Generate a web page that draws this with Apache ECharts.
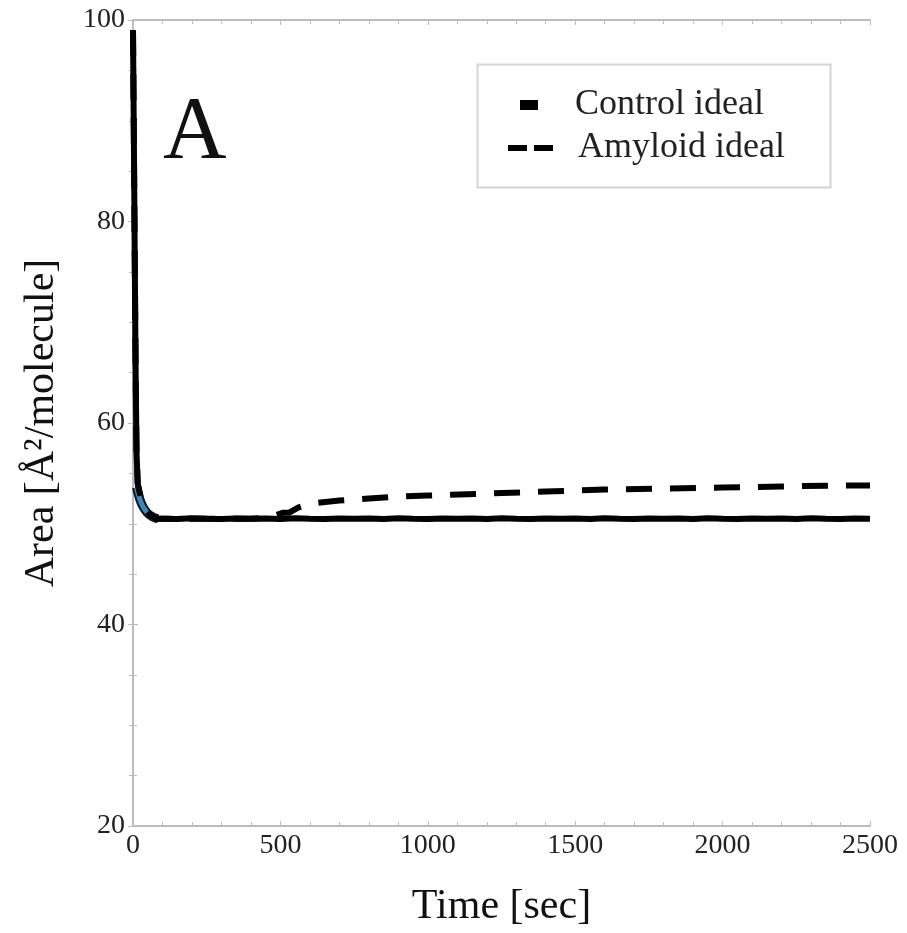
<!DOCTYPE html>
<html>
<head>
<meta charset="utf-8">
<script src="https://cdn.jsdelivr.net/npm/echarts@6/dist/echarts.min.js"></script>
<style>html,body{margin:0;padding:0;background:#fff}#c{width:907px;height:933px}</style>
</head>
<body>
<div id="c"></div>
<script>
// ---- data ----
const xTicks = [0, 500, 1000, 1500, 2000, 2500];
const yTicks = [20, 40, 60, 80, 100];
// initial compression drop (shared by both curves)
const dropTime = [0, 3, 6, 9, 12, 16, 20, 30, 45, 60, 80];
const dropArea = [99, 88, 76, 65, 57, 54, 53.4, 52.2, 51.3, 50.8, 50.5];
// control ideal plateau (sampled every 50 s)
const ctrlTime = [100,150,200,250,300,350,400,450,500,550,600,650,700,750,800,850,900,950,1000,1050,1100,1150,1200,1250,1300,1350,1400,1450,1500,1550,1600,1650,1700,1750,1800,1850,1900,1950,2000,2050,2100,2150,2200,2250,2300,2350,2400,2450,2500];
const ctrlArea = [50.5,50.46,50.54,50.5,50.47,50.53,50.5,50.52,50.46,50.54,50.5,50.47,50.53,50.5,50.52,50.46,50.54,50.5,50.47,50.53,50.5,50.52,50.46,50.54,50.5,50.47,50.53,50.5,50.52,50.46,50.54,50.5,50.47,50.53,50.5,50.52,50.46,50.54,50.5,50.47,50.53,50.5,50.52,50.46,50.54,50.5,50.47,50.53,50.5];
// amyloid ideal plateau with slow rise
const amyTime = [100, 200, 300, 400, 450, 480, 510, 530, 560, 600, 700, 800, 900, 1000, 1200, 1400, 1600, 1800, 2000, 2200, 2400, 2500];
const amyArea = [50.5, 50.5, 50.5, 50.5, 50.6, 50.8, 51.1, 51.1, 51.6, 52.0, 52.3, 52.5, 52.7, 52.8, 53.0, 53.2, 53.4, 53.5, 53.6, 53.7, 53.8, 53.8];
// highlighted corner of the drop
const cornerTime = [12, 20, 32, 48, 66, 85];
const cornerArea = [53.6, 52.7, 51.8, 51.1, 50.7, 50.5];

const zip = (a, b) => a.map((v, i) => [v, b[i]]);
const ctrlData = zip(dropTime, dropArea).concat(zip(ctrlTime, ctrlArea));
const amyData = zip(dropTime, dropArea).concat(zip(amyTime, amyArea));
const cornerData = zip(cornerTime, cornerArea);

const SERIF = '"Liberation Serif","DejaVu Serif",serif';
const axisColor = '#bcbcbc';

const chart = echarts.init(document.getElementById('c'), null, {renderer: 'canvas'});
const baseAxis = {
  axisLine: {show: true, lineStyle: {color: axisColor, width: 2}},
  axisTick: {show: true, inside: true, length: 5, lineStyle: {color: axisColor}},
  minorTick: {show: true, length: 4, lineStyle: {color: axisColor}},
  splitLine: {show: false}
};
chart.setOption({
  animation: false,
  backgroundColor: '#fff',
  grid: {left: 133, right: 37, top: 20, bottom: 100},
  xAxis: [
    Object.assign({}, baseAxis, {
      type: 'value', min: 0, max: 2500, interval: 500, position: 'bottom',
      minorTick: Object.assign({}, baseAxis.minorTick, {splitNumber: 5}),
      axisLabel: {color: '#222', fontFamily: SERIF, fontSize: 28, margin: 6, formatter: v => String(v)},
      name: 'Time [sec]', nameLocation: 'middle', nameGap: 60,
      nameTextStyle: {color: '#111', fontFamily: SERIF, fontSize: 42}
    }),
    Object.assign({}, baseAxis, {
      type: 'value', min: 0, max: 2500, interval: 500, position: 'top',
      minorTick: Object.assign({}, baseAxis.minorTick, {splitNumber: 5}),
      axisLabel: {show: false}
    })
  ],
  yAxis: [
    Object.assign({}, baseAxis, {
      type: 'value', min: 20, max: 100, interval: 20, position: 'left',
      minorTick: Object.assign({}, baseAxis.minorTick, {splitNumber: 4}),
      axisLabel: {color: '#222', fontFamily: SERIF, fontSize: 28, margin: 8},
      name: 'Area [Å²/molecule]', nameLocation: 'middle', nameGap: 70,
      nameTextStyle: {color: '#111', fontFamily: SERIF, fontSize: 42}
    }),
    Object.assign({}, baseAxis, {
      type: 'value', min: 20, max: 100, interval: 20, position: 'right',
      minorTick: Object.assign({}, baseAxis.minorTick, {splitNumber: 4}),
      axisLabel: {show: false}
    })
  ],
  legend: [
    {
      data: [{name: 'Control ideal', icon: 'rect'}],
      left: 515, top: 82, itemWidth: 18, itemHeight: 10, itemGap: 0,
      textStyle: {fontFamily: SERIF, fontSize: 36, color: '#222', padding: [0, 0, 0, 32]},
      selectedMode: false
    },
    {
      data: [{name: 'Amyloid ideal', icon: 'path://M0,0H19V6H0Z M26,0H45V6H26Z'}],
      left: 503, top: 125, itemWidth: 45, itemHeight: 6, itemGap: 0,
      textStyle: {fontFamily: SERIF, fontSize: 36, color: '#222', padding: [0, 0, 0, 20]},
      selectedMode: false
    }
  ],
  graphic: [
    {type: 'rect', left: 475, top: 62, shape: {width: 353, height: 123},
     style: {fill: 'none', stroke: '#d4d4d4', lineWidth: 2}, z: 1},
    {type: 'text', left: 163, top: 90,
     style: {text: 'A', font: '88px "Liberation Serif","DejaVu Serif",serif', fill: '#111'}}
  ],
  series: [
    {
      name: 'Control ideal', type: 'line', data: ctrlData, showSymbol: false,
      color: '#000', lineStyle: {color: '#000', width: 6}, z: 3
    },
    {
      name: 'cornerEdge', type: 'line', data: cornerData, showSymbol: false, smooth: true,
      lineStyle: {color: '#0d1a24', width: 9}, z: 4
    },
    {
      name: 'cornerFill', type: 'line', data: cornerData, showSymbol: false, smooth: true,
      lineStyle: {color: '#3f86b8', width: 5}, z: 5
    },
    {
      name: 'Amyloid ideal', type: 'line', data: amyData, showSymbol: false,
      color: '#000', lineStyle: {color: '#000', width: 6, type: [26, 18]}, z: 6
    }
  ]
});
</script>
</body>
</html>
